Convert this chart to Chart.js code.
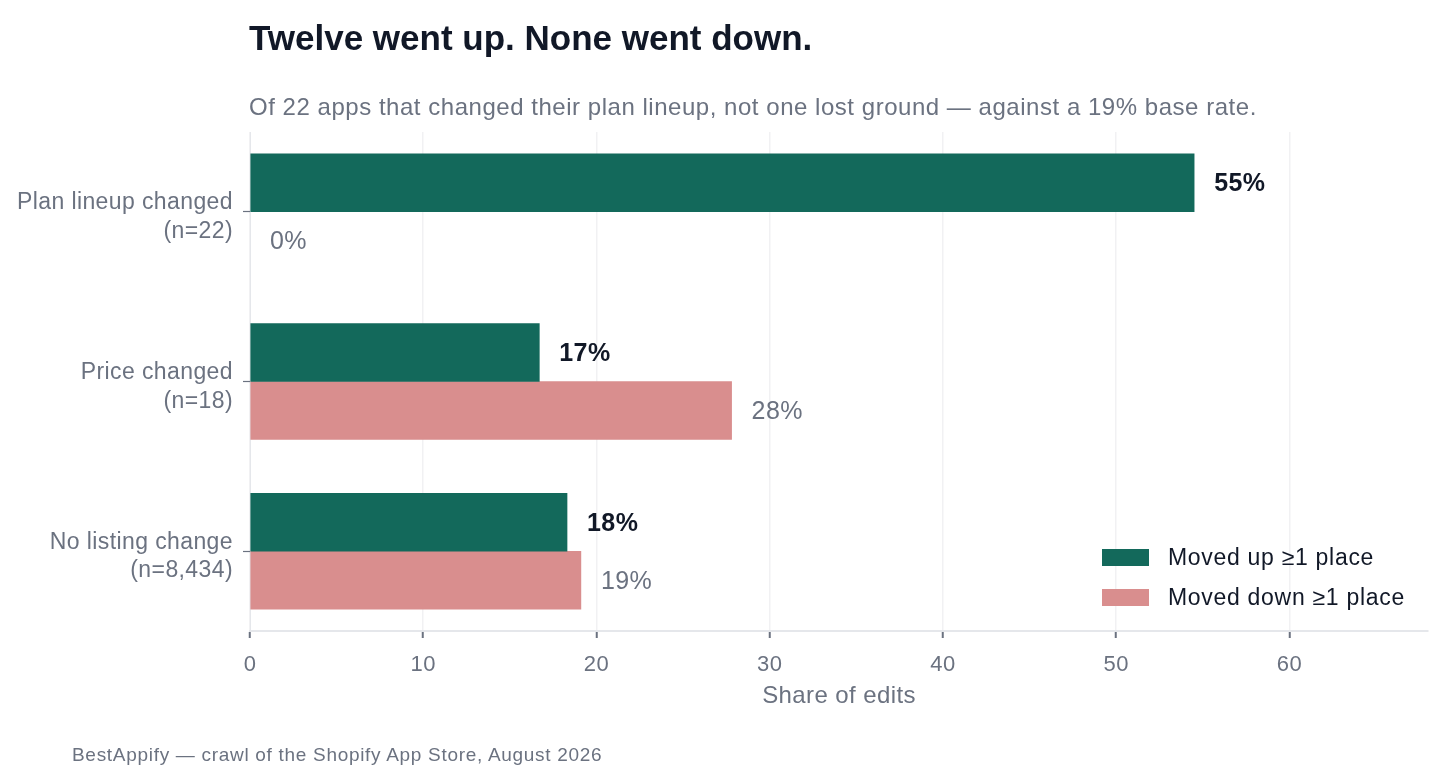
<!DOCTYPE html>
<html>
<head>
<meta charset="utf-8">
<script src="https://cdn.jsdelivr.net/npm/chart.js@4.4.1/dist/chart.umd.min.js"></script>
<style>
  body { margin: 0; background: #fff; font-family: "Liberation Sans", Arial, Helvetica, sans-serif; }
  #wrap { position: relative; width: 1445px; height: 783px; overflow: hidden; }
  #box { position: absolute; left: 0; top: 0; width: 1445px; height: 783px; }
  .txt { position: absolute; white-space: nowrap; line-height: 1; }
  #title { left: 249px; top: 19.5px; font-size: 35px; font-weight: bold; color: #111827; }
  #subtitle { left: 249px; top: 95px; font-size: 24px; letter-spacing: 0.53px; color: #6b7280; }
  #footer { left: 72px; top: 745px; font-size: 19px; letter-spacing: 0.7px; color: #6b7280; }
  .swatch { position: absolute; left: 1102px; width: 47px; height: 17px; }
  .legtxt { left: 1168px; font-size: 23px; letter-spacing: 0.7px; color: #111827; }
</style>
</head>
<body>
<div id="wrap">
  <div id="box"><canvas id="chart"></canvas></div>
  <div class="txt" id="title">Twelve went up. None went down.</div>
  <div class="txt" id="subtitle">Of 22 apps that changed their plan lineup, not one lost ground — against a 19% base rate.</div>
  <div class="swatch" style="top:549px; background:#13695b"></div>
  <div class="txt legtxt" style="top:546.2px">Moved up ≥1 place</div>
  <div class="swatch" style="top:589px; background:#d98e8e"></div>
  <div class="txt legtxt" style="top:585.5px">Moved down ≥1 place</div>
  <div class="txt" id="footer">BestAppify — crawl of the Shopify App Store, August 2026</div>
</div>
<script>
// Data
const categories = [
    ["Plan lineup changed", "(n=22)"],
    ["Price changed", "(n=18)"],
    ["No listing change", "(n=8,434)"]
];
const movedUp = [54.5, 16.7, 18.3];
const movedDown = [0, 27.8, 19.1];
const xTicks = [0, 10, 20, 30, 40, 50, 60];

const GREEN = "#13695b";
const PINK = "#d98e8e";
const GRAY = "#6b7280";
const DARK = "#111827";

Chart.defaults.font.family = '"Liberation Sans", Arial, Helvetica, sans-serif';

// slightly looser tracking, like the original
const tracking = {
    id: "tracking",
    beforeDraw(chart) { chart.ctx.letterSpacing = "0.4px"; }
};

// value labels at the end of each bar
const barLabels = {
    id: "barLabels",
    afterDatasetsDraw(chart) {
        const ctx = chart.ctx;
        chart.data.datasets.forEach((ds, di) => {
            const meta = chart.getDatasetMeta(di);
            meta.data.forEach((bar, i) => {
                const v = ds.data[i].x;
                ctx.save();
                ctx.font = (di === 0 ? "bold " : "") + '25px "Liberation Sans", Arial, sans-serif';
                ctx.fillStyle = di === 0 ? DARK : GRAY;
                ctx.textAlign = "left";
                ctx.textBaseline = "middle";
                ctx.fillText(Math.round(v) + "%", bar.x + 20, bar.y + 1.5);
                ctx.restore();
            });
        });
    }
};

const ctx = document.getElementById("chart").getContext("2d");
new Chart(ctx, {
    type: "bar",
    data: {
        datasets: [
            {
                label: "Moved up ≥1 place",
                data: movedUp.map((v, i) => ({ x: v, y: i })),
                backgroundColor: GREEN,
                barThickness: 58
            },
            {
                label: "Moved down ≥1 place",
                data: movedDown.map((v, i) => ({ x: v, y: i })),
                backgroundColor: (c) => (c.raw && c.raw.x === 0 ? "rgba(0,0,0,0)" : PINK),
                barThickness: 58
            }
        ]
    },
    options: {
        indexAxis: "y",
        responsive: true,
        maintainAspectRatio: false,
        animation: false,
        layout: { padding: { top: 132, right: 17, bottom: 72.6, left: 0 } },
        plugins: {
            legend: { display: false },
            tooltip: { enabled: false }
        },
        scales: {
            x: {
                type: "linear",
                position: "bottom",
                min: 0,
                max: 68,
                afterBuildTicks: (s) => { s.ticks = xTicks.map(v => ({ value: v })); },
                afterFit: (s) => { s.height = 79.4; },
                grid: { color: "#f1f1f3", lineWidth: 1.5, tickColor: GRAY, tickLength: 7, tickWidth: 2 },
                border: { color: "#e5e7eb", width: 2 },
                ticks: { color: GRAY, font: { size: 22 }, padding: 14 },
                title: { display: true, text: "Share of edits", color: GRAY, font: { size: 24 }, padding: 0 }
            },
            y: {
                type: "linear",
                position: "left",
                min: -0.47,
                max: 2.47,
                reverse: true,
                offset: false,
                afterBuildTicks: (s) => { s.ticks = categories.map((c, i) => ({ value: i })); },
                afterFit: (s) => { s.width = 250; },
                grid: { offset: false, drawOnChartArea: false, drawTicks: true, tickLength: 7, tickColor: GRAY, tickWidth: 1.2 },
                border: { color: "#e5e7eb", width: 1 },
                ticks: {
                    color: GRAY,
                    font: { size: 23, lineHeight: 1.25 },
                    padding: 10,
                    labelOffset: 5.5,
                    callback: (v) => categories[v]
                }
            }
        }
    },
    plugins: [tracking, barLabels]
});
</script>
</body>
</html>
